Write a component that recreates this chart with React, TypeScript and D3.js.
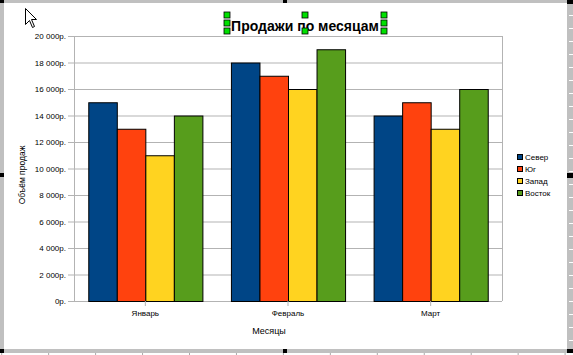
import React from "react";
import * as d3 from "d3";

const categories = ["Январь", "Февраль", "Март"];
const seriesNames = ["Север", "Юг", "Запад", "Восток"];
const seriesColors = ["#004586", "#ff420e", "#ffd320", "#579d1c"];
const sever = [15000, 18000, 14000];
const yug = [13000, 17000, 15000];
const zapad = [11000, 16000, 13000];
const vostok = [14000, 19000, 16000];
const yTicks = [0, 2000, 4000, 6000, 8000, 10000, 12000, 14000, 16000, 18000, 20000];

const seriesValues = [sever, yug, zapad, vostok];

const W = 573;
const H = 355;
const FONT = "'Liberation Sans', Arial, sans-serif";

function fmt(v: number) {
  if (v === 0) return "0р.";
  const s = String(v);
  const head = s.slice(0, s.length - 3);
  const tail = s.slice(s.length - 3);
  return head + " " + tail + "р.";
}

export default function App() {
  const left = 74;
  const right = 502;
  const top = 36;
  const bottom = 301;
  const x = d3.scaleBand<string>().domain(categories).range([left, right]).paddingInner(0).paddingOuter(0);
  const xi = d3
    .scaleBand<string>()
    .domain(seriesNames)
    .range([0, x.bandwidth()])
    .paddingInner(0)
    .paddingOuter(0.5);
  const y = d3.scaleLinear().domain([0, 20000]).range([bottom, top]);

  const rulerX = d3.range(0, 13).map((k) => 1.7 + k * 46.95);
  const rulerY = d3.range(0, 26).map((k) => 15 + k * 13);

  const handle = (cx: number, cy: number, key: string) => (
    <rect key={key} x={cx - 3} y={cy - 3} width={6} height={6} fill="#00e000" stroke="#000" strokeWidth={0.8} />
  );

  return (
    <svg width={W} height={H} style={{ position: "absolute", left: 0, top: 0 }} fontFamily={FONT}>
      <rect x={0} y={0} width={W} height={H} fill="#fff" />
      {/* frame */}
      <rect x={0} y={0} width={W} height={3} fill="#c0c0c0" />
      <rect x={0} y={0} width={4} height={353} fill="#c0c0c0" />
      <rect x={567} y={0} width={6} height={353} fill="#c0c0c0" />
      <rect x={0} y={349} width={W} height={4} fill="#c0c0c0" />
      {rulerY.map((ry, i) => (
        <line key={"ry" + i} x1={569} x2={573} y1={ry + 0.5} y2={ry + 0.5} stroke="#fff" />
      ))}
      {rulerX.map((rx, i) => (
        <line key={"rx" + i} x1={rx} x2={rx} y1={353} y2={355} stroke="#aaa" />
      ))}
      <rect x={0} y={0} width={4} height={3} fill="#000" />
      <rect x={283} y={0} width={4} height={3} fill="#000" />
      <rect x={567} y={0} width={6} height={4} fill="#000" />
      <rect x={0} y={173} width={4} height={4} fill="#000" />
      <rect x={567} y={173} width={6} height={5} fill="#000" />
      <rect x={0} y={349} width={4} height={4} fill="#000" />
      <rect x={283} y={349} width={4} height={4} fill="#000" />
      <rect x={567} y={349} width={6} height={4} fill="#000" />

      {/* gridlines */}
      {yTicks.map((t) => (
        <g key={"g" + t}>
          <line x1={left - 6} x2={right} y1={y(t) + 0.5} y2={y(t) + 0.5} stroke="#b3b3b3" />
          <text x={66} y={y(t) + 3} fontSize={8} textAnchor="end" fill="#000">
            {fmt(t)}
          </text>
        </g>
      ))}
      <line x1={left + 0.5} x2={left + 0.5} y1={top} y2={bottom} stroke="#b3b3b3" />
      <line x1={right + 0.5} x2={right + 0.5} y1={top} y2={bottom} stroke="#b3b3b3" />

      {/* bars */}
      {categories.map((c, ci) => (
        <g key={c}>
          {seriesNames.map((s, si) => {
            const v = seriesValues[si][ci];
            const bx = (x(c) as number) + (xi(s) as number);
            return (
              <rect
                key={s}
                x={bx + 0.5}
                y={y(v) + 0.5}
                width={xi.bandwidth()}
                height={bottom - y(v)}
                fill={seriesColors[si]}
                stroke="#000"
                strokeWidth={1}
              />
            );
          })}
          <line
            x1={(x(c) as number) + x.bandwidth() / 2}
            x2={(x(c) as number) + x.bandwidth() / 2}
            y1={bottom}
            y2={bottom + 5}
            stroke="#b3b3b3"
          />
          <text x={(x(c) as number) + x.bandwidth() / 2} y={316} fontSize={8} textAnchor="middle" fill="#000">
            {c}
          </text>
        </g>
      ))}

      {/* axis titles */}
      <text x={269} y={334} fontSize={9} textAnchor="middle" fill="#000">
        Месяцы
      </text>
      <text transform="translate(25,175) rotate(-90)" fontSize={8.5} textAnchor="middle" fill="#000">
        Объём продаж
      </text>

      {/* legend */}
      {seriesNames.map((s, i) => (
        <g key={"l" + s}>
          <rect x={517.5} y={154.5 + i * 12} width={5} height={5} fill={seriesColors[i]} stroke="#000" />
          <text x={525} y={160 + i * 12} fontSize={8} fill="#000">
            {s}
          </text>
        </g>
      ))}

      {/* title */}
      <text x={305} y={31} fontSize={14} fontWeight="bold" textAnchor="middle" fill="#000">
        Продажи по месяцам
      </text>
      {handle(227, 15, "h1")}
      {handle(305, 15, "h2")}
      {handle(384, 15, "h3")}
      {handle(227, 23, "h4")}
      {handle(384, 23, "h5")}
      {handle(227, 31, "h6")}
      {handle(305, 31, "h7")}
      {handle(384, 31, "h8")}

      {/* mouse cursor */}
      <path
        d="M25.5,8.5 L25.5,24.5 L29.5,20.5 L32.5,27.5 L34.5,26.5 L31.5,19.5 L36.5,19.5 Z"
        fill="#fff"
        stroke="#000"
        strokeWidth={1}
      />
    </svg>
  );
}
